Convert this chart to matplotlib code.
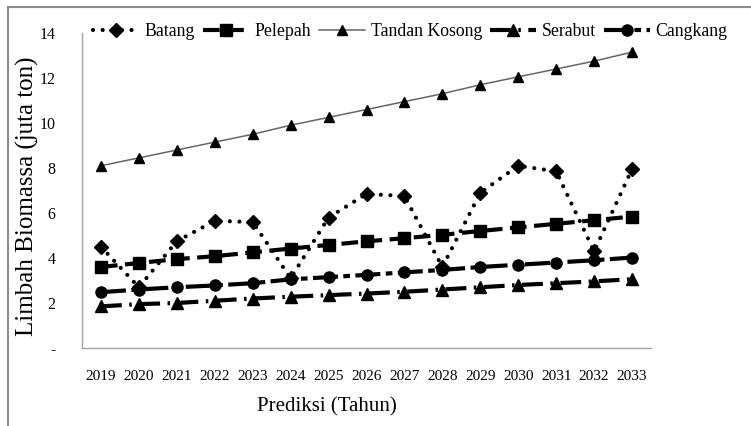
import matplotlib
matplotlib.use("Agg")
import matplotlib.pyplot as plt
from matplotlib.lines import Line2D

plt.rcParams["font.family"] = ["Liberation Serif", "DejaVu Serif"]

years = [str(y) for y in range(2019, 2034)]
batang = [4.5, 2.7, 4.75, 5.65, 5.6, 3.1, 5.8, 6.85, 6.75, 3.6, 6.9, 8.1, 7.85, 4.3, 7.95]
pelepah = [3.6, 3.78, 3.95, 4.08, 4.25, 4.42, 4.58, 4.74, 4.88, 5.03, 5.2, 5.36, 5.52, 5.68, 5.84]
tandan_kosong = [8.1, 8.45, 8.8, 9.15, 9.5, 9.9, 10.25, 10.6, 10.95, 11.3, 11.7, 12.05, 12.4, 12.75, 13.15]
serabut = [1.85, 1.95, 2.0, 2.1, 2.2, 2.28, 2.35, 2.42, 2.5, 2.6, 2.7, 2.8, 2.88, 2.96, 3.06]
cangkang = [2.48, 2.6, 2.7, 2.78, 2.88, 3.05, 3.15, 3.25, 3.36, 3.47, 3.6, 3.7, 3.8, 3.9, 4.02]

yticks = [0, 2, 4, 6, 8, 10, 12, 14]
ytick_labels = ["-", "2", "4", "6", "8", "10", "12", "14"]

fig = plt.figure(figsize=(7.51, 4.26), dpi=100, facecolor="white")
ax = fig.add_axes([82 / 751, 1 - 348 / 426, (651 - 82) / 751, (348 - 33) / 426])
x = list(range(len(years)))

ax.plot(x, batang, color="black", lw=3, linestyle=(0, (0.01, 2.3)),
        dash_capstyle="round", marker="D", ms=7, label="Batang", zorder=3)
ax.plot(x, pelepah, color="black", lw=3, linestyle=(0, (4, 1.8)),
        marker="s", ms=8, label="Pelepah", zorder=3)
ax.plot(x, tandan_kosong, color="#666666", lw=1.1, marker="^", ms=7,
        mfc="black", mec="black", label="Tandan Kosong", zorder=3)
ax.plot(x, serabut, color="black", lw=3, linestyle=(0, (5, 1.8, 0.6, 1.8)),
        marker="^", ms=8, label="Serabut", zorder=3)
ax.plot(x, cangkang, color="black", lw=3, linestyle=(0, (6, 1.3, 1.6, 1.3)),
        marker="o", ms=8, label="Cangkang", zorder=3)

ax.set_xlim(-0.5, len(years) - 0.5)
ax.set_ylim(0, 14)
ax.set_xticks(x)
ax.set_xticklabels(years, fontsize=11)
ax.set_yticks(yticks)
ax.set_yticklabels(ytick_labels, fontsize=11.5)
ax.tick_params(axis="both", length=0)
ax.tick_params(axis="y", pad=19)
ax.tick_params(axis="x", pad=16)
for s in ["top", "right"]:
    ax.spines[s].set_visible(False)
for s in ["left", "bottom"]:
    ax.spines[s].set_color("#a6a6a6")
    ax.spines[s].set_linewidth(1.0)

fig.text(27 / 751, 1 - 196 / 426, "Limbah Biomassa (juta ton)", rotation=90,
         ha="center", va="center", fontsize=18)
fig.text(327 / 751, 1 - 407 / 426, "Prediksi (Tahun)", ha="center", va="center",
         fontsize=15)

handles, labels = ax.get_legend_handles_labels()
fig.legend(handles, labels, loc="center left", ncol=5,
           bbox_to_anchor=(93 / 751, 1 - 32 / 426), frameon=False,
           fontsize=12.8, handlelength=2.6, handletextpad=0.3,
           columnspacing=0.45, borderpad=0, borderaxespad=0)

# outer frame of the picture
fig.add_artist(Line2D([8 / 751, 1], [1 - 7 / 426, 1 - 7 / 426], color="#8c8c8c", lw=1.5))
fig.add_artist(Line2D([8 / 751, 8 / 751], [0, 1 - 7 / 426], color="#8c8c8c", lw=1.5))

fig.savefig("out.png", dpi=100, facecolor="white")
